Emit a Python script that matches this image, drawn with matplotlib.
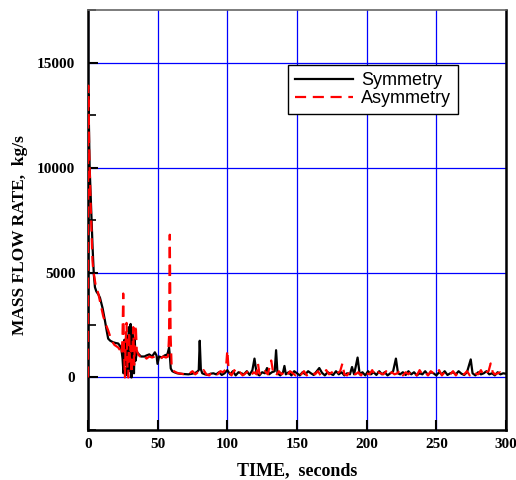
import matplotlib
matplotlib.use("Agg")
import matplotlib.pyplot as plt
from matplotlib.ticker import MultipleLocator

# Symmetry case (black, solid)
t_sym = [0, 0.3, 0.7, 1.2, 2.0, 2.6, 3.3, 4.2, 5.0, 6.0, 7.5, 8.6, 10.5, 12.2, 13.5,
         14.5, 16, 18, 20, 21.7, 23, 24, 24.8, 25.5, 26.2, 27, 27.6, 28.2, 28.8, 29.4,
         30, 30.6, 31.2, 31.8, 32.4, 33, 33.6, 34.2, 35, 36, 38, 40.6, 42, 44, 46, 48,
         49.2, 49.9, 51, 53, 55, 57, 58.2, 58.8, 59.4, 60.5, 62, 64, 66, 68, 70, 72, 74,
         76, 78, 79.5, 80.2, 81, 82, 84, 86, 88, 90, 92, 94, 96, 98, 100, 102, 104, 106,
         108, 110, 112, 114, 116, 118, 119.5, 121, 123, 125, 127, 128.5, 130, 132, 134,
         135, 136, 138, 140, 141, 142, 144, 146, 148, 150, 152, 154, 156, 158, 160, 162,
         164, 166, 168, 170, 172, 174, 176, 178, 180, 182, 184, 186, 188, 189.5, 191,
         193.5, 195, 197, 199, 201, 203, 205, 207, 209, 211, 213, 215, 217, 219, 221,
         222.5, 224, 226, 228, 230, 232, 234, 236, 238, 240, 242, 244, 246, 248, 250,
         252, 254, 256, 258, 260, 262, 264, 266, 268, 270, 272, 274.7, 276, 278, 280,
         282, 284, 286, 288, 290, 292, 294, 296, 298, 300]
m_sym = [0, 13500, 12000, 10000, 8500, 7500, 6200, 4900, 4300, 4100, 3950, 3800, 3300,
         2700, 2200, 1850, 1750, 1680, 1640, 1620, 1500, 1350, 900, 200, 1800, 600, 2000,
         100, 1500, 2400, 300, 2550, 0, 2200, 1500, 200, 1800, 800, 1200, 1140, 1000,
         1000, 1050, 1100, 1000, 1200, 1050, 650, 1000, 950, 1050, 1100, 1430, 1000, 430,
         300, 250, 200, 180, 170, 160, 150, 170, 200, 250, 350, 1750, 400, 200, 150, 120,
         180, 200, 150, 250, 120, 200, 350, 150, 300, 100, 250, 200, 150, 300, 120, 350,
         900, 200, 100, 250, 200, 450, 150, 250, 300, 1300, 200, 100, 250, 550, 150, 250,
         100, 300, 200, 100, 250, 150, 300, 200, 120, 280, 450, 220, 100, 250, 180, 120,
         300, 150, 250, 100, 200, 150, 500, 150, 950, 150, 250, 100, 300, 150, 250, 120,
         300, 150, 250, 100, 200, 300, 900, 200, 150, 250, 120, 300, 150, 250, 100, 200,
         150, 300, 120, 250, 200, 100, 250, 150, 300, 120, 200, 250, 150, 300, 180, 120,
         250, 860, 200, 100, 250, 150, 200, 300, 150, 200, 100, 250, 150, 200, 180]

# Asymmetry case (red, dashed)
t_asym = [0, 0.2, 0.5, 0.8, 1.2, 1.8, 2.5, 3.2, 3.8, 4.5, 5.5, 7.4, 9, 11, 13, 14.5,
          16.9, 19, 21.7, 23, 24.2, 24.8, 25.3, 25.8, 26.5, 27.1, 27.7, 28.3, 28.9, 29.5,
          30.1, 30.7, 31.3, 31.9, 32.5, 33.1, 33.7, 34.3, 35, 36, 38, 40, 42, 44, 46, 48,
          50, 52, 54, 56, 57.5, 58.2, 58.7, 59.3, 60, 61, 63, 65, 67, 69, 71, 73, 75, 77,
          79, 81, 83, 85, 87, 89, 91, 93, 95, 97, 99, 100, 101, 103, 105, 107, 109, 111,
          113, 115, 117, 119, 121, 122, 123, 125, 127, 129, 131.5, 133, 135, 137, 139,
          141, 143, 145, 147, 149, 151, 153, 155, 157, 159, 161, 163, 165, 167, 169, 171,
          173, 175, 177, 179, 181, 182.6, 184, 186, 188, 190, 192, 194, 196, 198, 200,
          202, 204, 206, 208, 210, 212, 214, 216, 218, 220, 222, 224, 226, 228, 230, 232,
          234, 236, 238, 240, 242, 244, 246, 248, 250, 252, 254, 256, 258, 260, 262, 264,
          266, 268, 270, 272, 274, 276, 278, 280, 282, 284, 286, 287.5, 289, 290.5, 292,
          294, 296, 298, 300]
m_asym = [0, 13900, 13000, 11000, 10000, 8500, 7000, 5600, 5100, 4800, 4400, 4000, 3500,
          2900, 2500, 2240, 1760, 1550, 1430, 1300, 1100, 2000, 4000, 1500, 0, 1800, 2600,
          500, 0, 2200, 800, 1500, 200, 1200, 2400, 600, 1500, 2500, 1300, 1100, 950, 1050,
          900, 1000, 950, 1000, 950, 900, 1000, 950, 1000, 2000, 6800, 2000, 600, 330, 250,
          200, 180, 150, 120, 200, 300, 150, 250, 200, 350, 150, 100, 250, 200, 150, 300,
          250, 400, 1290, 300, 100, 350, 150, 250, 100, 200, 300, 100, 250, 150, 670, 200,
          100, 300, 150, 810, 200, 100, 300, 150, 250, 100, 300, 200, 100, 250, 150, 300,
          100, 200, 250, 150, 300, 100, 200, 350, 150, 250, 100, 200, 300, 670, 150, 100,
          300, 200, 150, 250, 100, 300, 200, 150, 350, 100, 250, 200, 150, 300, 100, 250,
          150, 200, 350, 100, 250, 150, 300, 200, 100, 350, 150, 250, 100, 300, 200, 150,
          350, 100, 250, 200, 150, 300, 100, 250, 200, 150, 300, 100, 250, 200, 150, 350,
          100, 250, 300, 670, 250, 150, 200, 250, 200, 220]

fig = plt.figure(figsize=(5.16, 4.8), dpi=100)
ax = fig.add_axes([0.1705, 0.1042, 0.8101, 0.8748])

ax.plot(t_sym, m_sym, color='black', linewidth=1.6, label='Symmetry', zorder=3)
ax.plot(t_asym, m_asym, color='#ff0000', linewidth=1.6, dashes=(5, 3),
        label='Asymmetry', zorder=4)

ax.set_xlim(0, 300)
ax.set_ylim(-2500, 17500)
ax.set_xticks([0, 50, 100, 150, 200, 250, 300])
ax.set_yticks([0, 5000, 10000, 15000])
ax.yaxis.set_minor_locator(MultipleLocator(2500))
ax.grid(True, color='#0000ff', linewidth=0.9)
ax.tick_params(direction='in', length=7, width=1.5, labelsize=11)
ax.tick_params(which='minor', direction='in', length=6, width=1.2, left=True)
for lab in ax.get_xticklabels() + ax.get_yticklabels():
    lab.set_fontfamily('Liberation Serif')
    lab.set_fontweight('bold')
ax.tick_params(axis='x', pad=6)
ax.tick_params(axis='y', pad=9)

for side in ['left', 'bottom', 'right']:
    ax.spines[side].set_linewidth(1.8)
ax.spines['top'].set_linewidth(1.2)
ax.spines['top'].set_color('#666666')

ax.set_xlabel('TIME,  seconds', fontfamily='Liberation Serif', fontweight='bold',
              fontsize=13, va='baseline')
ax.set_ylabel('MASS FLOW RATE,  kg/s', fontfamily='Liberation Serif',
              fontweight='bold', fontsize=12.5)
ax.xaxis.set_label_coords(0.5, -0.107)
ax.yaxis.set_label_coords(-0.1435, 0.464)

leg = ax.legend(loc='upper left', bbox_to_anchor=(0.478, 0.869), borderaxespad=0,
                fancybox=False, framealpha=1, edgecolor='black',
                prop={'family': 'Liberation Sans', 'size': 13},
                handlelength=3.2, borderpad=0.4, labelspacing=0.05, handletextpad=0.45)
leg.get_frame().set_linewidth(1.0)

fig.savefig('out.png', dpi=100)
